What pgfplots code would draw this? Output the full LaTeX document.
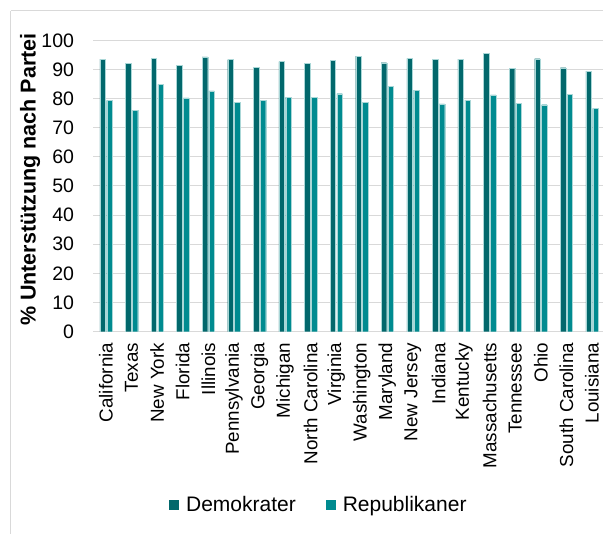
\documentclass[border=0pt]{standalone}
\usepackage{fontspec}
\setmainfont{Liberation Sans}
\usepackage{pgfplots}
\usepackage{pgfplotstable}
\pgfplotsset{compat=1.18}
\definecolor{demc}{RGB}{2,104,108}
\definecolor{repc}{RGB}{0,139,144}
\definecolor{edgec}{RGB}{170,215,215}
\definecolor{gridc}{RGB}{217,217,217}
\pgfplotstableread{
idx D R
0 93.5 79.4
1 92.2 76.0
2 93.8 84.9
3 91.5 80.2
4 94.3 82.6
5 93.4 78.7
6 90.7 79.4
7 92.7 80.5
8 92.1 80.5
9 93.1 81.7
10 94.6 78.7
11 92.3 84.2
12 93.8 82.9
13 93.4 78.2
14 93.5 79.5
15 95.5 81.3
16 90.3 78.3
17 93.7 77.9
18 90.6 81.4
19 89.4 76.6
}\datatable
\begin{document}
\begin{tikzpicture}[x=1pt,y=1pt]
\useasboundingbox (0,0) rectangle (603,534);
\draw[gridc, line width=1pt] (10.5,523) -- (620,523);
\draw[gridc, line width=1pt] (10.5,523) -- (10.5,-20);
\begin{axis}[
  at={(93.2pt,202.3pt)}, anchor=south west,
  scale only axis, width=511.6pt, height=291.4pt,
  xmin=-0.5, xmax=19.5, ymin=0, ymax=100,
  ytick={0,10,...,100},
  xtick=data,
  xticklabels={California,Texas,New York,Florida,Illinois,Pennsylvania,Georgia,Michigan,North Carolina,Virginia,Washington,Maryland,New Jersey,Indiana,Kentucky,Massachusetts,Tennessee,Ohio,South Carolina,Louisiana},
  axis line style={draw=none},
  major tick length=0pt,
  tick style={draw=none},
  ymajorgrids, major grid style={gridc, line width=1pt},
  /pgf/number format/assume math mode=true,
  y tick label style={font=\fontsize{19.5}{23}\selectfont, inner sep=0pt, anchor=east},
  yticklabel shift=19pt,
  x tick label style={font=\fontsize{18.8}{22}\selectfont, inner sep=0pt, rotate=90, anchor=east},
  xticklabel shift=11pt,
  ylabel={\bfseries \% Unterstützung nach Partei},
  ylabel style={font=\fontsize{21.5}{25}\selectfont, at={(axis description cs:-0.1235,0.522)}, anchor=center, inner sep=0pt},
  ybar, bar width=5.5pt,
  legend columns=2,
  legend style={draw=none, fill=none, at={(axis description cs:0.441,-0.595)}, anchor=center,
    font=\fontsize{21}{25}\selectfont, column sep=5pt,
    /tikz/every even column/.append style={column sep=28pt}},
  legend image code/.code={\fill[#1,draw=none] (0pt,-5pt) rectangle (10pt,5pt);},
]
\addplot[fill=demc, draw=edgec, line width=0.2pt, bar shift=-3.4pt] table[x=idx,y=D]{\datatable};
\addlegendentry{Demokrater}
\addplot[fill=repc, draw=edgec, line width=0.2pt, bar shift=3.4pt] table[x=idx,y=R]{\datatable};
\addlegendentry{Republikaner}
\end{axis}
\end{tikzpicture}
\end{document}
